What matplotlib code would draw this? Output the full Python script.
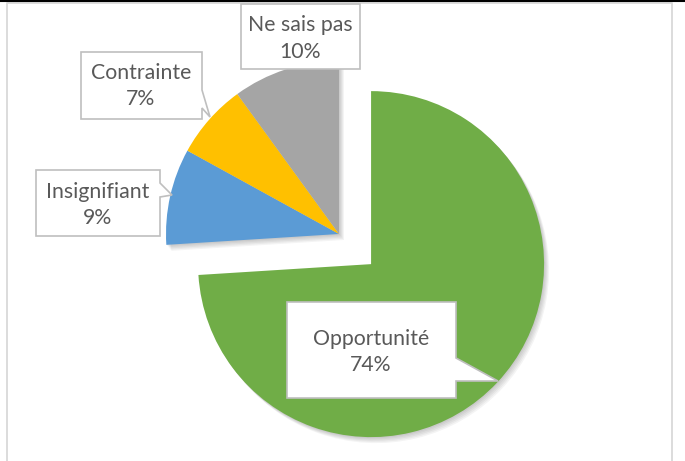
import matplotlib
matplotlib.use("Agg")
import matplotlib.pyplot as plt
from matplotlib.patches import Polygon

# data
categories = ["Opportunité", "Insignifiant", "Contrainte", "Ne sais pas"]
values = [74, 9, 7, 10]
colors = ["#70AD47", "#5B9BD5", "#FFC000", "#A5A5A5"]

W, H = 685, 461
fig = plt.figure(figsize=(W / 100, H / 100), dpi=100)
ax = fig.add_axes([0, 0, 1, 1])

def Y(y):
    # pixel row -> data y
    return H - y

cx, cy, r = 339, Y(234), 173
explode = [44, 0, 0, 0]  # matplotlib uses data units here

# soft shadow
for d in [1, 2, 3, 4, 5]:
    ax.pie(values, explode=explode, startangle=90, counterclock=False,
           center=(cx + d, cy - d * 1.2), radius=r, colors=["#000000"] * 4,
           wedgeprops=dict(alpha=0.045, linewidth=0), frame=True)

ax.pie(values, explode=explode, startangle=90, counterclock=False,
       center=(cx, cy), radius=r, colors=colors,
       wedgeprops=dict(linewidth=0), frame=True)
ax.set_xlim(0, W)
ax.set_ylim(0, H)
ax.set_aspect("equal")
ax.axis("off")

# chart frame + black rule on top
ax.plot([7, 7, 672, 672], [Y(470), Y(3), Y(3), Y(470)], color="#D9D9D9", lw=1.3, clip_on=False)
ax.plot([0, W], [Y(0.8), Y(0.8)], color="black", lw=1.5, clip_on=False)

# callout shapes (pixel coords)
callouts = {
    "Opportunité": [(287, 302), (456, 302), (456, 358), (498, 381), (456, 381), (456, 398), (287, 398)],
    "Insignifiant": [(36, 170), (160, 170), (160, 183), (172, 195), (160, 197), (160, 236), (36, 236)],
    "Contrainte": [(81, 52), (202, 52), (202, 90), (210, 117), (202, 108), (202, 119), (81, 119)],
    "Ne sais pas": [(241, 4), (360, 4), (360, 69), (241, 69)],
}
text_pos = {
    "Opportunité": (371, 352),
    "Insignifiant": (98, 205),
    "Contrainte": (141, 86),
    "Ne sais pas": (300, 38.5),
}

for cat, val in zip(categories, values):
    pts = [(x, Y(y)) for x, y in callouts[cat]]
    ax.add_patch(Polygon(pts, closed=True, facecolor="white", edgecolor="#BFBFBF", lw=1.2, zorder=5))
    tx, ty = text_pos[cat]
    ax.text(tx, Y(ty), f"{cat}\n{val}%", ha="center", va="center", fontsize=15.3,
            family="Lato", color="#595959", linespacing=1.4, zorder=6)

fig.savefig("out.png", dpi=100)
